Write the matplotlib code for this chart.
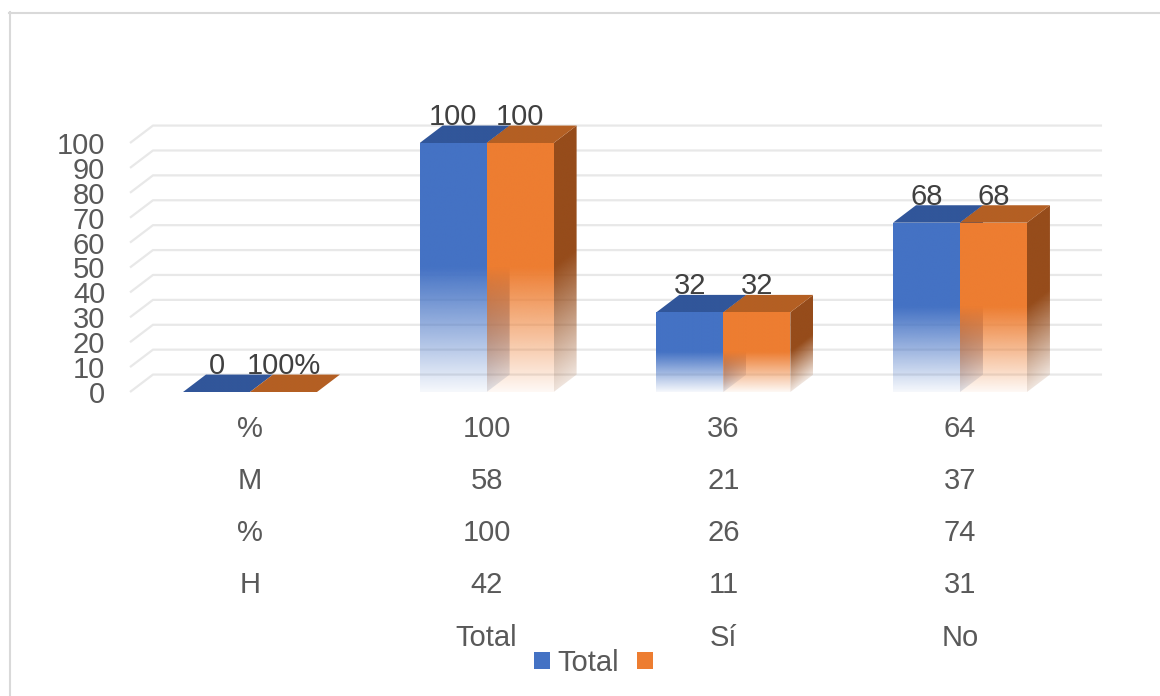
import matplotlib.pyplot as plt
import numpy as np
from matplotlib.colors import to_rgb
from matplotlib.lines import Line2D
from matplotlib.patches import Patch, Polygon

plt.rcParams["font.family"] = ["Liberation Sans", "DejaVu Sans"]

# datos del grafico
categorias = ["", "Total", "Sí", "No"]
serie_total = [0, 100, 32, 68]
serie_naranja = [0, 100, 32, 68]
etiquetas_total = ["0", "100", "32", "68"]
etiquetas_naranja = ["100%", "100", "32", "68"]

# tabla de datos bajo el eje
filas_tabla = ["%", "M", "%", "H"]
tabla_total = [100, 58, 100, 42]
tabla_si = [36, 21, 26, 11]
tabla_no = [64, 37, 74, 31]

AZUL = "#4472C4"
AZUL_TAPA = "#31569A"
AZUL_LADO = "#2A4A85"
NARANJA = "#ED7D31"
NARANJA_TAPA = "#B45F23"
NARANJA_LADO = "#964C1B"
GRIS_TEXTO = "#595959"
TAM = 21

ANCHO = 0.283      # ancho de cada barra (en categorias)
PROF_X = 0.097     # profundidad 3D en x
PROF_Y = 7.0       # profundidad 3D en y (unidades del eje)

# escala: pixeles por categoria y por unidad
PX_X0, PX_PASO = 250, 236.67
PX_Y0, PX_UNIDAD = 392, 2.49
XLIM = (-0.55, 3.65)
YLIM = (-4, 118)
W, H = 1160, 696


def y_de_px(py):
    return (PX_Y0 - py) / PX_UNIDAD


def cara(ax, vertices, color, valor=None, x_frente=None, z=2, minimo=0.05):
    poly = Polygon(vertices, closed=True, transform=ax.transData)
    xs = [p[0] for p in vertices]
    ys = [p[1] for p in vertices]
    x0, x1, y0, y1 = min(xs), max(xs), min(ys), max(ys)
    X, Y = np.meshgrid(np.linspace(x0, x1, 80), np.linspace(y0, y1, 300))
    if valor is None or valor <= 0:
        alpha = np.ones_like(X)
    else:
        h = Y.copy()
        if x_frente is not None:
            h = Y - PROF_Y * (X - x_frente) / PROF_X
        t = np.clip(h / valor, 0, 1)
        alpha = np.clip(minimo + (1 - minimo) * t / 0.5, 0, 1)
    rgba = np.zeros(X.shape + (4,))
    rgba[..., :3] = to_rgb(color)
    rgba[..., 3] = alpha
    im = ax.imshow(rgba, extent=(x0, x1, y0, y1), origin="lower",
                   aspect="auto", interpolation="bilinear", zorder=z)
    im.set_clip_path(poly)


def barra(ax, x0, valor, c_frente, c_tapa, c_lado, z):
    x1 = x0 + ANCHO
    if valor > 0:
        cara(ax, [(x1, 0), (x1, valor), (x1 + PROF_X, valor + PROF_Y), (x1 + PROF_X, PROF_Y)],
             c_lado, valor, x_frente=x1, z=z, minimo=0.15)
        cara(ax, [(x0, 0), (x1, 0), (x1, valor), (x0, valor)], c_frente, valor, z=z + 1)
    cara(ax, [(x0, valor), (x1, valor), (x1 + PROF_X, valor + PROF_Y), (x0 + PROF_X, valor + PROF_Y)],
         c_tapa, z=z + 2)


fig = plt.figure(figsize=(W / 100, H / 100), dpi=100)
izq = PX_X0 + XLIM[0] * PX_PASO
der = PX_X0 + XLIM[1] * PX_PASO
arriba = PX_Y0 - YLIM[1] * PX_UNIDAD
abajo = PX_Y0 - YLIM[0] * PX_UNIDAD
ax = fig.add_axes([izq / W, 1 - abajo / H, (der - izq) / W, (abajo - arriba) / H])

# lineas de cuadricula en el plano del fondo
x_ini = -0.507
for v in range(0, 101, 10):
    ax.plot([x_ini, x_ini + PROF_X, 3.6], [v, v + PROF_Y, v + PROF_Y],
            color="#E8E8E8", lw=1.6, zorder=0, solid_capstyle="butt")

for i in range(len(categorias)):
    z = 2 + i * 10
    barra(ax, i - ANCHO, serie_total[i], AZUL, AZUL_TAPA, AZUL_LADO, z)
    barra(ax, i, serie_naranja[i], NARANJA, NARANJA_TAPA, NARANJA_LADO, z + 3)
    ax.text(i - ANCHO / 2, serie_total[i] + PROF_Y + 0.2, etiquetas_total[i],
            ha="center", va="baseline", fontsize=TAM, color="#404040", zorder=50)
    ax.text(i + ANCHO / 2, serie_naranja[i] + PROF_Y + 0.2, etiquetas_naranja[i],
            ha="center", va="baseline", fontsize=TAM, color="#404040", zorder=50)

# tabla de datos
filas_px = [429, 481, 533, 585]
columnas = [tabla_total, tabla_si, tabla_no]
for r, py in enumerate(filas_px):
    yy = y_de_px(py)
    ax.text(0, yy, filas_tabla[r], ha="center", va="center", fontsize=TAM,
            color=GRIS_TEXTO, clip_on=False)
    for c, col in enumerate(columnas):
        ax.text(c + 1, yy, str(col[r]), ha="center", va="center", fontsize=TAM,
                color=GRIS_TEXTO, clip_on=False)
for i, cat in enumerate(categorias):
    ax.text(i, y_de_px(638), cat, ha="center", va="center", fontsize=TAM,
            color=GRIS_TEXTO, clip_on=False)

ax.set_xlim(*XLIM)
ax.set_ylim(*YLIM)
ax.set_xticks([])
ax.set_yticks(range(0, 101, 10))
ax.tick_params(axis="y", length=0, pad=10.5, labelsize=TAM, labelcolor=GRIS_TEXTO)
for s in ax.spines.values():
    s.set_visible(False)

fig.legend(handles=[Patch(facecolor=AZUL), Patch(facecolor=NARANJA)],
           labels=["Total", ""], loc="center", bbox_to_anchor=(597 / W, 1 - 663 / H),
           ncol=2, frameon=False, fontsize=TAM, handlelength=0.55, handleheight=0.55,
           handletextpad=0.25, columnspacing=0.6, labelcolor=GRIS_TEXTO)

# marco del area del grafico
fig.add_artist(Line2D([9.5 / W, 9.5 / W], [1 - 12 / H, 0], transform=fig.transFigure,
                      color="#D9D9D9", lw=1.5))
fig.add_artist(Line2D([9 / W, 1], [1 - 12.5 / H, 1 - 12.5 / H], transform=fig.transFigure,
                      color="#D9D9D9", lw=1.5))

fig.savefig("out.png", dpi=100)
